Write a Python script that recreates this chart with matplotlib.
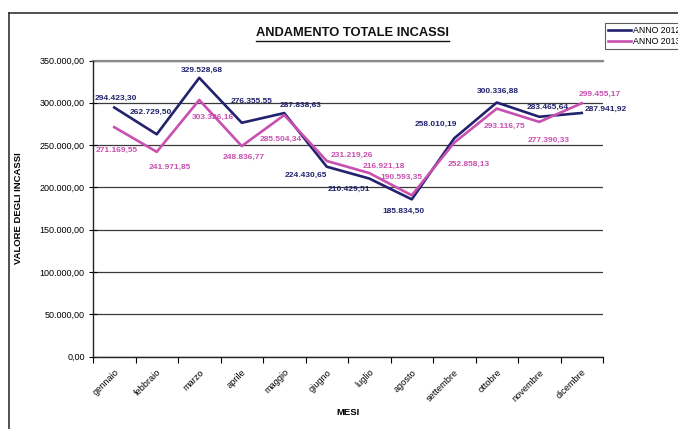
import matplotlib
matplotlib.use("Agg")
import matplotlib.pyplot as plt
from matplotlib.lines import Line2D

plt.rcParams.update({
    "font.family": ["Liberation Sans", "DejaVu Sans"],
    "font.size": 6.5,
})

# Data
mesi = ["gennaio", "febbraio", "marzo", "aprile", "maggio", "giugno",
        "luglio", "agosto", "settembre", "ottobre", "novembre", "dicembre"]
anno_2012 = [294423.30, 262729.50, 329528.68, 276355.55, 287838.63, 224430.65,
             210429.51, 185834.50, 258010.19, 300336.88, 283465.64, 287941.92]
anno_2013 = [271169.55, 241971.85, 303326.16, 248836.77, 285504.34, 231219.26,
             216921.18, 190593.35, 252858.13, 293116.75, 277390.33, 299455.17]
y_ticks = [0, 50000, 100000, 150000, 200000, 250000, 300000, 350000]

# label offsets from the point, in pixels (dx right, dy down)
off_2012 = [(2, -9), (-6, -22), (3, -7), (10, -21), (16, -8), (-21, 9),
            (-20, 11), (-8, 12), (-18, -14), (1, -11), (8, -9), (24, -4)]
off_2013 = [(2, 23), (13, 15), (14, 17), (2, 11), (-3, 24), (25, -6),
            (15, -7), (-10, -18), (14, 22), (8, 18), (9, 18), (18, -9)]

col_2012 = "#22226e"
col_2013 = "#c850b0"


def it_fmt(v):
    s = f"{v:,.2f}"
    return s.replace(",", "X").replace(".", ",").replace("X", ".")


W, H = 678, 429
ax_left, ax_w = 93, 510
fig = plt.figure(figsize=(W / 100, H / 100), dpi=100)
ax = fig.add_axes([ax_left / W, 1 - 356.5 / H, ax_w / W, 296 / H])

x = list(range(len(mesi)))
ax.plot(x, anno_2012, color=col_2012, lw=1.9, zorder=3, label="ANNO 2012")
ax.plot(x, anno_2013, color=col_2013, lw=1.9, zorder=3, label="ANNO 2013")

for i in x:
    dx, dy = off_2012[i]
    ax.annotate(it_fmt(anno_2012[i]), (i, anno_2012[i]), xytext=(dx * 0.72, -dy * 0.72),
                textcoords="offset points", ha="center", va="center",
                fontsize=6.0, fontweight="bold", color=col_2012, zorder=4)
    dx, dy = off_2013[i]
    ax.annotate(it_fmt(anno_2013[i]), (i, anno_2013[i]), xytext=(dx * 0.72, -dy * 0.72),
                textcoords="offset points", ha="center", va="center",
                fontsize=6.0, fontweight="bold", color=col_2013, zorder=4)

ax.set_xlim(-0.5, len(mesi) - 0.5)
ax.set_ylim(0, 350000)

ax.set_yticks(y_ticks)
ax.set_yticklabels([it_fmt(v) for v in y_ticks])
ax.tick_params(axis="y", direction="inout", length=6, width=0.8, pad=3, labelsize=6.5)

ax.set_xticks(x)
ax.set_xticklabels(mesi, rotation=45, ha="right", rotation_mode="anchor")
ax.set_xticks([i - 0.5 for i in range(len(mesi) + 1)], minor=True)
ax.tick_params(axis="x", which="major", length=0, pad=8, labelsize=6.6)
ax.tick_params(axis="x", which="minor", direction="out", length=4, width=0.8)

ax.grid(axis="y", color="#3a3a3a", lw=0.9, zorder=1)
ax.axhline(350000, color="#8a8a8a", lw=1.6, zorder=2, clip_on=False)
for s in ["top", "right"]:
    ax.spines[s].set_visible(False)
for s in ["left", "bottom"]:
    ax.spines[s].set_linewidth(1.0)
    ax.spines[s].set_color("#222222")

ax.set_xlabel("MESI", fontsize=6.8, fontweight="bold")
ax.xaxis.set_label_coords(0.5, -0.175)
ax.set_ylabel("VALORE DEGLI INCASSI", fontsize=6.8, fontweight="bold")
ax.yaxis.set_label_coords((23 - ax_left) / ax_w, 0.5)

# title with underline
title = fig.text(352 / W, 1 - 33 / H, "ANDAMENTO TOTALE INCASSI", ha="center", va="center",
                 fontsize=9.3, fontweight="bold", color="#111111")
fig.canvas.draw()
bb = title.get_window_extent().transformed(fig.transFigure.inverted())
fig.add_artist(Line2D([bb.x0, bb.x1], [bb.y0 - 1.5 / H, bb.y0 - 1.5 / H],
                      transform=fig.transFigure, color="#111111", lw=1.0))

# outer frame (top and left edges)
fig.add_artist(Line2D([9 / W, 1.0], [1 - 12.5 / H, 1 - 12.5 / H],
                      transform=fig.transFigure, color="#333333", lw=1.2))
fig.add_artist(Line2D([9 / W, 9 / W], [0, 1 - 12.5 / H],
                      transform=fig.transFigure, color="#333333", lw=1.2))

leg = fig.legend(loc="upper left", bbox_to_anchor=(605 / W, 1 - 22.5 / H),
                 fontsize=6.3, frameon=True, fancybox=False, edgecolor="#333333",
                 handlelength=2.6, handletextpad=0.2, borderpad=0.35,
                 labelspacing=0.25, borderaxespad=0)
leg.get_frame().set_linewidth(0.8)

fig.savefig("out.png", dpi=100)
